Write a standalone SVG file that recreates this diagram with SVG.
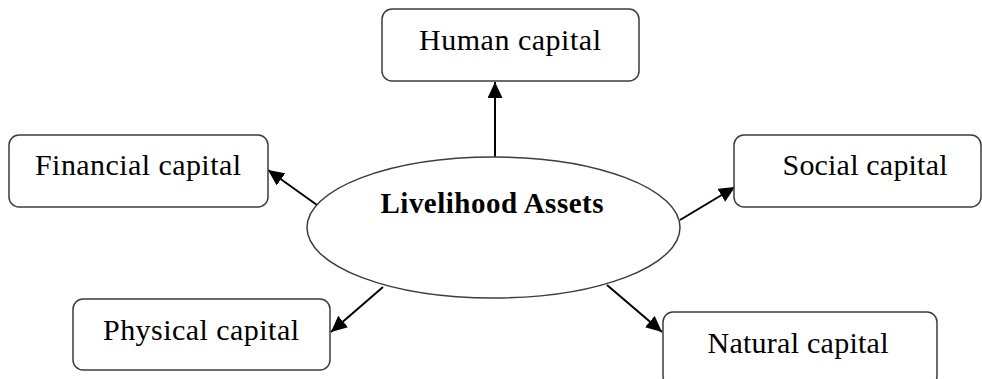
<svg xmlns="http://www.w3.org/2000/svg" width="982" height="379" viewBox="0 0 982 379">
<style>
.box{fill:#fff;stroke:#3c3c3c;stroke-width:1.5}
.lbl{font-family:"Liberation Serif","Times New Roman",serif;font-size:30px;fill:#000;text-anchor:middle}
.ctr{font-family:"Liberation Serif","Times New Roman",serif;font-size:29px;font-weight:bold;fill:#000;text-anchor:middle}
.con{stroke:#000;stroke-width:2;fill:none;marker-end:url(#ah)}
</style>
<defs>
<marker id="ah" markerUnits="userSpaceOnUse" markerWidth="18" markerHeight="16" refX="16" refY="7.5" orient="auto">
<path d="M0,0 L16,7.5 L0,15 Z" fill="#000"/>
</marker>
</defs>
<rect width="982" height="379" fill="#fff"/>
<g id="connectors">
<line class="con" x1="495" y1="157" x2="495" y2="82"/>
<line class="con" x1="317" y1="205" x2="268" y2="170"/>
<line class="con" x1="680" y1="220" x2="735" y2="187"/>
<line class="con" x1="383" y1="287" x2="331" y2="332"/>
<line class="con" x1="607" y1="285" x2="662" y2="332"/>
</g>
<g id="center">
<ellipse cx="493.5" cy="227.5" rx="186.5" ry="70.5" fill="#fff" stroke="#3c3c3c" stroke-width="1.5"/>
<text class="ctr" x="492" y="213" textLength="223" lengthAdjust="spacing">Livelihood Assets</text>
</g>
<g id="human">
<rect class="box" x="382" y="9" width="257" height="72" rx="10"/>
<text class="lbl" x="510" y="50" textLength="182" lengthAdjust="spacing">Human capital</text>
</g>
<g id="financial">
<rect class="box" x="9" y="135" width="259" height="72" rx="10"/>
<text class="lbl" x="138" y="175" textLength="206" lengthAdjust="spacing">Financial capital</text>
</g>
<g id="social">
<rect class="box" x="734" y="135" width="247" height="72" rx="10"/>
<text class="lbl" x="865" y="175" textLength="165" lengthAdjust="spacing">Social capital</text>
</g>
<g id="physical">
<rect class="box" x="73" y="299" width="257" height="71" rx="10"/>
<text class="lbl" x="201" y="340" textLength="196" lengthAdjust="spacing">Physical capital</text>
</g>
<g id="natural">
<rect class="box" x="663" y="312" width="274" height="74" rx="10"/>
<text class="lbl" x="798" y="353" textLength="181" lengthAdjust="spacing">Natural capital</text>
</g>
</svg>
